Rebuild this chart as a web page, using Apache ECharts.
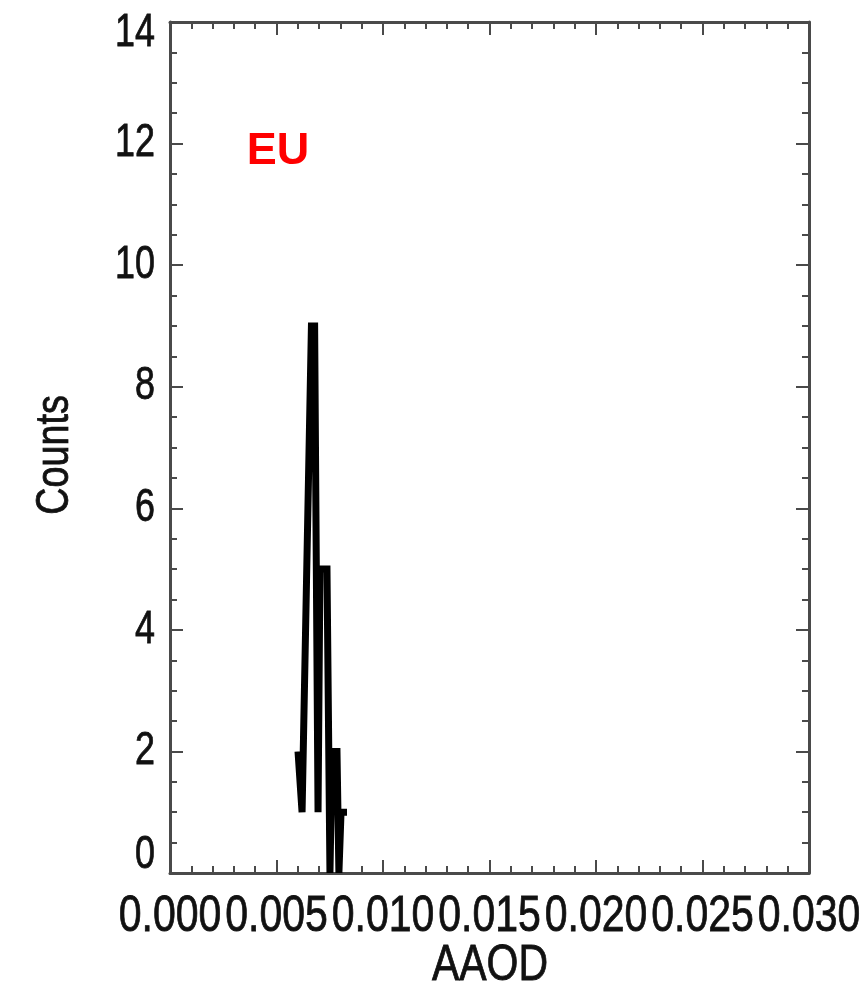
<!DOCTYPE html>
<html>
<head>
<meta charset="utf-8">
<script src="https://cdn.jsdelivr.net/npm/echarts@6/dist/echarts.min.js"></script>
<style>html,body{margin:0;padding:0;background:#fff;}#c{width:866px;height:996px;}</style>
</head>
<body>
<div id="c"></div>
<script>
// Data (AAOD vs counts polyline)
var aaod   = [0.00601, 0.00620, 0.00664, 0.00679, 0.00695, 0.00704, 0.00737, 0.00751, 0.00761, 0.00784, 0.00793, 0.00803, 0.00831];
var counts = [2,       1,       9,       9,       1,       5,       5,       0,       2,       2,       0,       1,       1];
var xTicks = [0, 0.005, 0.010, 0.015, 0.020, 0.025, 0.030];
var yTicks = [0, 2, 4, 6, 8, 10, 12, 14];
var regionLabel = 'EU';
var xName = 'AAOD';
var yName = 'Counts';

var pts = aaod.map(function (x, i) { return [x, counts[i]]; });
var axisColor = '#4a4a4a';
var txtColor = '#111111';
var labelFont = '"Liberation Sans", Arial, sans-serif';

var chart = echarts.init(document.getElementById('c'), null, {renderer: 'canvas'});
var baseX = {
  type: 'value', min: xTicks[0], max: xTicks[xTicks.length - 1], interval: xTicks[1] - xTicks[0],
  axisLine: {show: true, onZero: false, lineStyle: {color: axisColor, width: 3}},
  axisTick: {show: true, inside: true, length: 13, lineStyle: {color: axisColor, width: 2}},
  minorTick: {show: true, splitNumber: 5, length: 7, lineStyle: {color: axisColor, width: 2}},
  axisLabel: {show: false},
  splitLine: {show: false}
};
var baseY = {
  type: 'value', min: yTicks[0], max: yTicks[yTicks.length - 1], interval: yTicks[1] - yTicks[0],
  axisLine: {show: true, onZero: false, lineStyle: {color: axisColor, width: 3}},
  axisTick: {show: true, inside: true, length: 13, lineStyle: {color: axisColor, width: 2}},
  minorTick: {show: true, splitNumber: 4, length: 7, lineStyle: {color: axisColor, width: 2}},
  axisLabel: {show: false},
  splitLine: {show: false}
};
chart.setOption({
  animation: false,
  backgroundColor: '#ffffff',
  grid: {left: 170, top: 22, width: 639, height: 851, containLabel: false},
  xAxis: [
    Object.assign({}, baseX, {position: 'bottom'}),
    Object.assign({}, baseX, {position: 'top'})
  ],
  yAxis: [
    Object.assign({}, baseY, {position: 'left'}),
    Object.assign({}, baseY, {position: 'right'})
  ],
  series: [{
    type: 'line', xAxisIndex: 0, yAxisIndex: 0,
    data: pts, showSymbol: false, symbol: 'none',
    lineStyle: {color: '#000', width: 7, join: 'miter'},
    z: 5
  }]
});

// Tick labels and axis titles as real text, placed through the axes' own scales
var g = [];
function txt(s, x, y, size, scaleX, align, extra) {
  var o = {type: 'text', x: x, y: y, scaleX: scaleX, silent: true,
    style: {text: s, font: size + 'px ' + labelFont, fill: txtColor,
      stroke: txtColor, lineWidth: 0.8,
      textAlign: align, textVerticalAlign: 'middle'}};
  if (extra) Object.assign(o, extra);
  return o;
}
xTicks.forEach(function (v) {
  var px = chart.convertToPixel({xAxisIndex: 0}, v);
  g.push(txt(v.toFixed(3), px, 917, 50, 0.82, 'center'));
});
yTicks.forEach(function (v, i) {
  var py = chart.convertToPixel({yAxisIndex: 0}, v);
  if (i === 0) py -= 18;
  if (i === yTicks.length - 1) py += 11;
  g.push(txt(String(v), 155, py, 46, 0.78, 'right'));
});
g.push(txt(xName, 490, 966, 50, 0.82, 'center'));
g.push(txt(yName, 55, 455, 46, 0.82, 'center', {rotation: Math.PI / 2}));
g.push({type: 'text', x: 278, y: 152, silent: true,
  style: {text: regionLabel, fill: '#ff0000', font: 'bold 45px ' + labelFont,
    textAlign: 'center', textVerticalAlign: 'middle'}});
chart.setOption({graphic: g});
</script>
</body>
</html>
